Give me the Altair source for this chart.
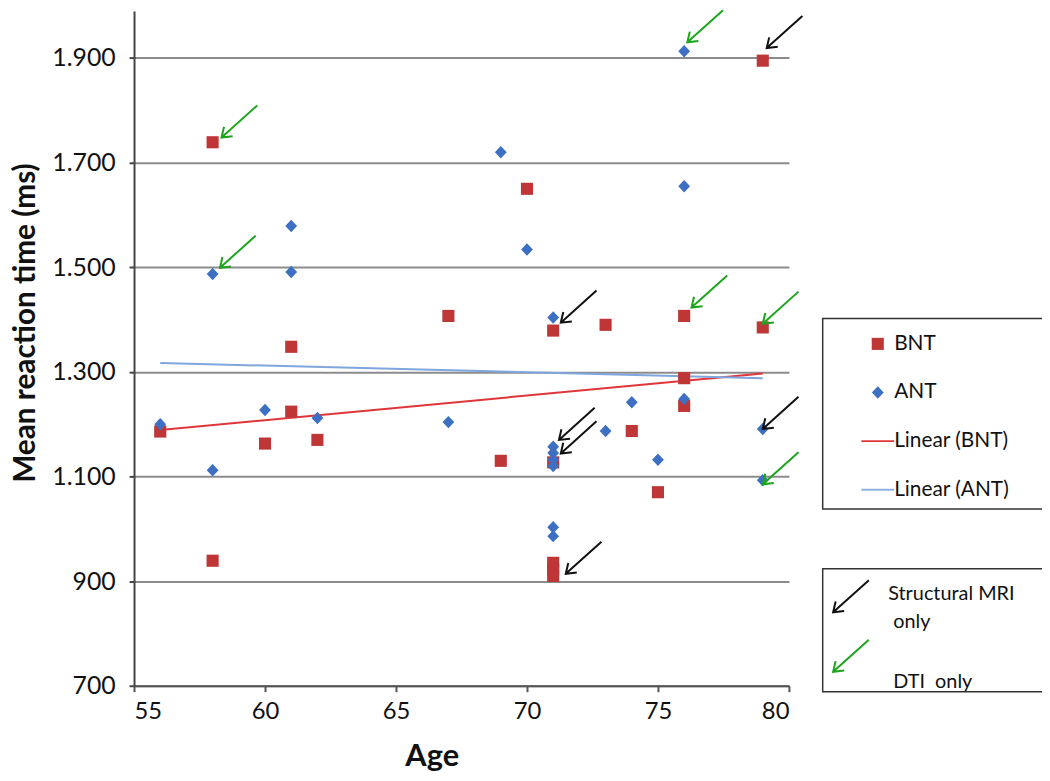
import altair as alt
import pandas as pd

# ---------------- data ----------------
bnt_age = [56, 58, 58, 60, 61, 61, 62, 67, 69, 70, 71, 71, 71, 71, 71, 73, 74, 75, 76, 76, 76, 79, 79]
bnt_rt = [1186, 1739, 939, 1163, 1348, 1224, 1170, 1407, 1130, 1650, 1379, 1127, 935, 922, 910,
          1390, 1187, 1070, 1407, 1288, 1235, 1895, 1385]

ant_age = [56, 58, 58, 60, 61, 61, 62, 67, 69, 70, 71, 71, 71, 71, 71, 71, 71, 73, 74, 75, 76, 76, 76, 79, 79]
ant_rt = [1200, 1112, 1487, 1227, 1579, 1491, 1212, 1204, 1720, 1534, 1404, 1157, 1145, 1132, 1120,
          1003, 986, 1187, 1242, 1132, 1913, 1655, 1248, 1191, 1093]

trend_age = [56, 79]
bnt_trend = [1189, 1297]
ant_trend = [1317, 1288]

# arrow tips (annotations)
arrow_age = [58.34, 58.28, 76.12, 76.28, 79.0, 79.0, 79.15, 71.29, 71.22, 71.29, 79.0, 71.48]
arrow_rt = [1748, 1499, 1930, 1423, 1392, 1085, 1919, 1394, 1170, 1144, 1191, 914]
arrow_kind = ["DTI  only"] * 6 + ["Structural MRI only"] * 6

series_names = ["BNT", "ANT", "Linear (BNT)", "Linear (ANT)"]
series_colors = ["#BE3636", "#3D70C2", "#E0363A", "#8DB0E0"]
line_colors = ["#E0363A", "#7FA6DD"]
arrow_names = ["Structural MRI only", "DTI  only"]
arrow_colors = ["#111111", "#1DA51D"]

y_ticks = [700, 900, 1100, 1300, 1500, 1700, 1900]
x_ticks = [55, 60, 65, 70, 75, 80]

# ---------------- tables ----------------
pts = pd.DataFrame({
    "age": bnt_age + ant_age,
    "rt": bnt_rt + ant_rt,
    "series": ["BNT"] * len(bnt_age) + ["ANT"] * len(ant_age),
})
trend = pd.DataFrame({
    "age": trend_age + trend_age,
    "rt": bnt_trend + ant_trend,
    "series": ["Linear (BNT)"] * 2 + ["Linear (ANT)"] * 2,
})
arrows = pd.DataFrame({"age": arrow_age, "rt": arrow_rt, "kind": arrow_kind})

# ---------------- shapes ----------------
SQUARE = "M -0.37 -0.37 H 0.37 V 0.37 H -0.37 Z"
DIAMOND = "M 0 -0.38 L 0.36 0 L 0 0.38 L -0.36 0 Z"
LINE = "M -1 -0.06 H 1 V 0.06 H -1 Z"
ARROW = "M 1 -0.8 L -1 1 M -0.86 0.4 L -1 1 L -0.38 0.93"
shape_paths = [SQUARE, DIAMOND, LINE, LINE]

NB = "\u00a0"
ZW = "\u200b"
FONT = "Lato"

x_enc = alt.X("age:Q", title="Age",
              scale=alt.Scale(domain=[55, 80], nice=False, zero=False),
              axis=alt.Axis(values=x_ticks, grid=False, labelFont=FONT, labelFontSize=24,
                            labelColor="#111", labelPadding=8, tickSize=6, tickWidth=2,
                            tickColor="#555", domainColor="#555", domainWidth=2,
                            titleFont=FONT, titleFontSize=31, titleFontWeight="bold",
                            titleColor="#111", titlePadding=18, titleX=300))
y_enc = alt.Y("rt:Q", title="Mean reaction time (ms)",
              scale=alt.Scale(domain=[700, 1990], nice=False, zero=False),
              axis=alt.Axis(values=y_ticks,
                            labelExpr="replace(format(datum.value, ','), ',', '.')",
                            labelFont=FONT, labelFontSize=25, labelColor="#111",
                            labelPadding=14, tickSize=5, tickWidth=2, tickColor="#444",
                            domainColor="#444", domainWidth=2,
                            grid=True, gridColor="#8c8c8c", gridWidth=2,
                            titleFont=FONT, titleFontSize=30, titleFontWeight="bold",
                            titleColor="#111", titlePadding=11, titleY=314))

legend_a = dict(title=None, orient="none", legendX=694, legendY=310, padding=9,
                symbolOffset=30, labelOffset=0, rowPadding=22, labelFont=FONT,
                labelFontSize=21, labelColor="#111", labelLimit=300, symbolSize=1089,
                symbolStrokeWidth=0, strokeColor="#333",
                labelExpr="datum.label + '" + NB * 7 + ZW + "'")

points = alt.Chart(pts).mark_point(filled=True, size=1089, opacity=1).encode(
    x=x_enc, y=y_enc,
    color=alt.Color("series:N", scale=alt.Scale(domain=series_names, range=series_colors),
                    legend=alt.Legend(**legend_a)),
    shape=alt.Shape("series:N", scale=alt.Scale(domain=series_names, range=shape_paths),
                    legend=alt.Legend(**legend_a)),
)

lines = alt.Chart(trend).mark_line(strokeWidth=2).encode(
    x="age:Q", y="rt:Q",
    color=alt.Color("series:N", scale=alt.Scale(domain=["Linear (BNT)", "Linear (ANT)"],
                                                range=line_colors), legend=None),
)

label_b = ("datum.label == 'Structural MRI only' ? ['Structural MRI" + NB * 12 + ZW + "', '"
           + ZW + NB + "only'] : ['', '" + ZW + NB + "DTI" + NB + " only']")

arrow_layer = alt.Chart(arrows).mark_point(shape=ARROW, size=1296, filled=False, strokeWidth=2,
                                           opacity=1, xOffset=18, yOffset=-18).encode(
    x="age:Q", y="rt:Q",
    color=alt.Color("kind:N", scale=alt.Scale(domain=arrow_names, range=arrow_colors),
                    legend=alt.Legend(title=ZW + NB + ZW, titleFontSize=6, titlePadding=1,
                                      orient="none", legendX=694, legendY=562,
                                      padding=0, symbolOffset=9.5, labelOffset=18.5, rowPadding=3,
                                      labelFont=FONT, labelFontSize=20, labelColor="#111",
                                      labelBaseline="middle", labelLimit=300,
                                      symbolType=ARROW, symbolSize=1296, symbolStrokeWidth=2,
                                      strokeColor="#333", labelExpr=label_b)),
)

chart = alt.layer(lines, points, arrow_layer).resolve_scale(
    color="independent", shape="independent"
).properties(
    width=660, height=680,
    padding={"left": 127, "top": 0, "right": 255, "bottom": 93},
    autosize=alt.AutoSizeParams(type="none"),
    background="white",
).configure(
    view=alt.ViewConfig(stroke=None),
    legend=alt.LegendConfig(strokeWidth=1.5),
    style={"guide-label": {"lineHeight": 28}},
)

chart.save("out.html", embed_options={"renderer": "svg", "actions": False})
